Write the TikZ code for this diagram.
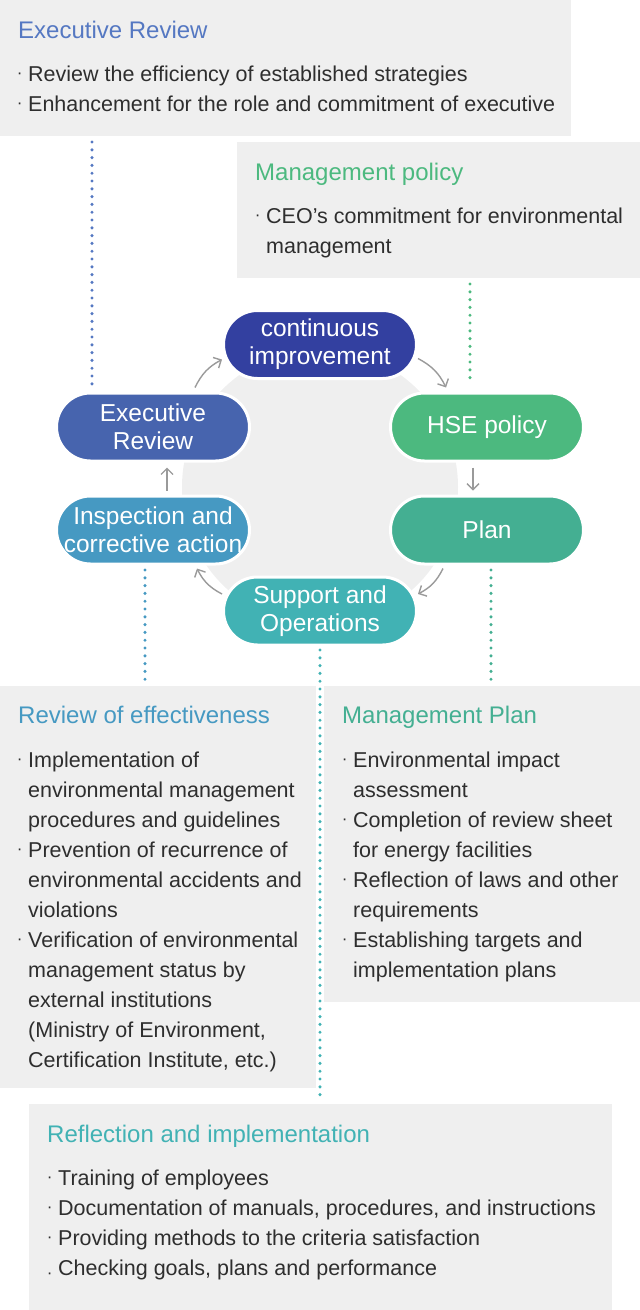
\documentclass[tikz,border=0pt]{standalone}
\usepackage{fontspec}
\setmainfont{Liberation Sans}
\usetikzlibrary{arrows.meta}

\definecolor{boxgray}{HTML}{EFEFEF}
\definecolor{bodytext}{HTML}{2E2E2E}
\definecolor{arrowgray}{HTML}{9A9A9A}
\definecolor{cinavy}{HTML}{3340A0}
\definecolor{execblue}{HTML}{4764AE}
\definecolor{exectitle}{HTML}{5578C2}
\definecolor{hsegreen}{HTML}{4CB97F}
\definecolor{plangreen}{HTML}{44AF92}
\definecolor{opsteal}{HTML}{41B2B4}
\definecolor{inspblue}{HTML}{4699C2}

% bullets hung left of the text
\newcommand\bul{\llap{\raisebox{2.5pt}{\fontsize{17}{17}\selectfont ·}\hspace{5.7pt}}}
\newcommand\bulp{\llap{\raisebox{-3pt}{\fontsize{17}{17}\selectfont ·}\hspace{5.7pt}}}

\tikzset{
  stage/.style={draw=white, line width=3pt, rounded corners=34pt,
    minimum width=193pt, minimum height=68pt, inner sep=0pt,
    text=white, align=center, font=\fontsize{24.5}{28}\selectfont},
  heading/.style={anchor=base west, inner sep=0pt, font=\fontsize{24}{28}\selectfont},
  item/.style={anchor=base west, inner sep=0pt, text=bodytext,
    font=\fontsize{21.5}{30}\selectfont},
  dots/.style={line width=3.4pt, line cap=round, dash pattern=on 0pt off 7.8pt},
  cycle/.style={arrowgray, line width=1.4pt,
    -{Straight Barb[length=6pt,width=12pt]}},
}

\begin{document}
\begin{tikzpicture}[x=1pt, y=-1pt]
    \useasboundingbox (0,0) rectangle (640,1310);

    % grey info boxes
    \fill[boxgray] (0,0) rectangle (571,136);
    \fill[boxgray] (237,142) rectangle (640,278);
    \fill[boxgray] (0,686) rectangle (316,1088);
    \fill[boxgray] (324,686) rectangle (640,1002);
    \fill[boxgray] (29,1104) rectangle (612,1310);
    \fill[boxgray] (320,487) circle (138);

    % dotted leaders
    \coordinate (er-a) at (92,142);   \coordinate (er-b) at (92,386);
    \coordinate (mp-a) at (470,284);  \coordinate (mp-b) at (470,382);
    \coordinate (rv-a) at (145,570);  \coordinate (rv-b) at (145,683);
    \coordinate (ri-a) at (320,650);  \coordinate (ri-b) at (320,1098);
    \coordinate (pl-a) at (491,570);  \coordinate (pl-b) at (491,683);
    \draw[dots, exectitle] (er-a) -- (er-b);
    \draw[dots, hsegreen] (mp-a) -- (mp-b);
    \draw[dots, inspblue] (rv-a) -- (rv-b);
    \draw[dots, opsteal] (ri-a) -- (ri-b);
    \draw[dots, plangreen] (pl-a) -- (pl-b);

    % the cycle
    \node[stage, fill=cinavy] (ci) at (320,344.5) {continuous\\improvement};
    \node[stage, fill=hsegreen] (hse) at (487,427) {HSE policy};
    \node[stage, fill=plangreen] (plan) at (487,530) {Plan};
    \node[stage, fill=opsteal] (ops) at (320,611) {Support and\\Operations};
    \node[stage, fill=inspblue] (insp) at (153,530) {Inspection and\\corrective action};
    \node[stage, fill=execblue] (exec) at (153,427) {Executive\\Review};

    \draw[cycle] ([yshift=-14pt]ci.east) to[bend left=18] ([xshift=-41pt,yshift=4pt]hse.north);
    \draw[cycle] ([xshift=-14pt,yshift=-5pt]hse.south) -- ([xshift=-14pt,yshift=4pt]plan.north);
    \draw[cycle] ([xshift=-44pt,yshift=-3pt]plan.south) to[bend left=18] ([yshift=17pt]ops.east);
    \draw[cycle] ([yshift=17pt]ops.west) to[bend left=18] ([xshift=44pt,yshift=-3pt]insp.south);
    \draw[cycle] ([xshift=14pt,yshift=4pt]insp.north) -- ([xshift=14pt,yshift=-5pt]exec.south);
    \draw[cycle] ([xshift=42pt,yshift=4pt]exec.north) to[bend left=18] ([yshift=-15pt]ci.west);

    % Executive Review
    \node[heading, text=exectitle] (er-title) at (18,38) {Executive Review};
    \node[item] (er-1) at (28,81) {\bul Review the efficiency of established strategies};
    \node[item] (er-2) at (28,111) {\bul Enhancement for the role and commitment of executive};

    % Management policy
    \node[heading, text=hsegreen] (mp-title) at (255,180) {Management policy};
    \node[item] (mp-1) at (266,223) {\bul CEO's commitment for environmental};
    \node[item] (mp-2) at (266,253) {management};

    % Review of effectiveness
    \node[heading, text=inspblue] (rv-title) at (18,723) {Review of effectiveness};
    \foreach \txt [count=\i from 0] in {{\bul Implementation of},
        environmental management, procedures and guidelines,
        {\bul Prevention of recurrence of}, environmental accidents and,
        violations, {\bul Verification of environmental},
        management status by, external institutions,
        {(Ministry of Environment,}, {Certification Institute, etc.)}}
      \node[item, name=rv-\i] at (28,767+30*\i) {\txt};

    % Management Plan
    \node[heading, text=plangreen] (pl-title) at (342,723) {Management Plan};
    \foreach \txt [count=\i from 0] in {{\bul Environmental impact},
        assessment, {\bul Completion of review sheet}, for energy facilities,
        {\bul Reflection of laws and other}, requirements,
        {\bul Establishing targets and}, implementation plans}
      \node[item, name=pl-\i] at (353,767+30*\i) {\txt};

    % Reflection and implementation
    \node[heading, text=opsteal] (ri-title) at (47,1142) {Reflection and implementation};
    \node[item] (ri-1) at (58,1185) {\bul Training of employees};
    \node[item] (ri-2) at (58,1215) {\bul Documentation of manuals, procedures, and instructions};
    \node[item] (ri-3) at (58,1245) {\bul Providing methods to the criteria satisfaction};
    \node[item] (ri-4) at (58,1275) {\bulp Checking goals, plans and performance};
\end{tikzpicture}
\end{document}
